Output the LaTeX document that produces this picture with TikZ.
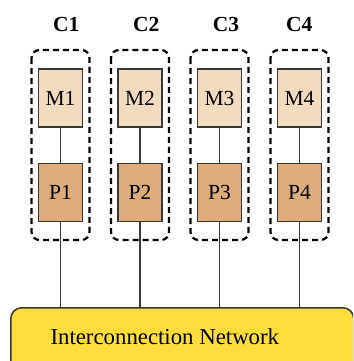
\documentclass[tikz,border=0pt]{standalone}
\usepackage{fontspec}
\setmainfont{Liberation Serif}[Scale=1.0]
\definecolor{memfill}{RGB}{240,219,193}
\definecolor{procfill}{RGB}{221,172,122}
\definecolor{netfill}{RGB}{252,221,60}
\definecolor{edge}{RGB}{55,55,55}
\begin{document}
\begin{tikzpicture}[x=1pt,y=-1pt,
  unitbox/.style={draw=edge,line width=1.5pt,minimum width=44pt,minimum height=58pt,inner sep=0pt,font=\rmfamily\fontsize{21.5}{24}\selectfont},
  membox/.style={unitbox,fill=memfill},
  procbox/.style={unitbox,fill=procfill},
  clusterbox/.style={draw=black,line width=2.2pt,dash pattern=on 6pt off 4pt,rounded corners=8pt},
  clabel/.style={font=\rmfamily\fontsize{21.5}{24}\selectfont\bfseries},
  link/.style={draw=edge,line width=1.6pt}]
\useasboundingbox (0,0) rectangle (353,361);
\clip (0,0) rectangle (353,361);
\node[draw=edge,line width=1.5pt,fill=netfill,rounded corners=11pt,minimum width=343pt,minimum height=80pt,anchor=north west] (net) at (10,307) {};
\node[anchor=west,font=\rmfamily\fontsize{22.8}{26}\selectfont] (nettext) at (47,337) {Interconnection Network};
\foreach \i/\x/\lx in {1/60.5/66.3,2/140/146.3,3/219.5/226,4/299.5/299.3}{
  \draw[clusterbox] (\x-29,50) rectangle (\x+29,240);
  \node[membox] (m\i) at (\x,98) {M\i};
  \node[procbox] (p\i) at (\x,192.5) {P\i};
  \node[clabel] (c\i) at (\lx,24) {C\i};
  \draw[link] (m\i.south) -- (p\i.north);
  \draw[link] (p\i.south) -- (p\i.south |- net.north);
}
\end{tikzpicture}
\end{document}
